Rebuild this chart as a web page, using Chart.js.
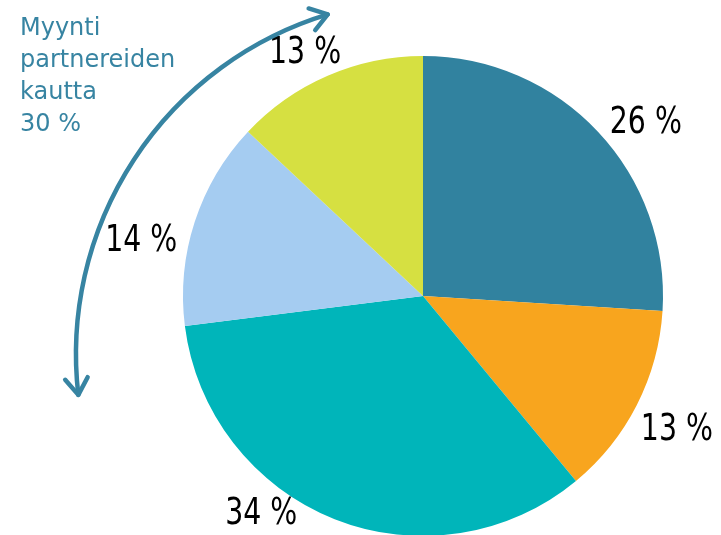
<!DOCTYPE html>
<html lang="fi">
<head>
<meta charset="utf-8">
<title>Myynti</title>
<script src="https://cdn.jsdelivr.net/npm/chart.js@4/dist/chart.umd.min.js"></script>
<style>
  html, body { margin: 0; padding: 0; background: #fff; overflow: hidden; }
  #wrap { position: absolute; left: 0; top: 0; width: 721px; height: 540px; }
</style>
</head>
<body>
<div id="wrap"><canvas id="myChart" width="721" height="540"></canvas></div>
<script>
// chart data (clockwise from 12 o'clock)
const segments = ['A', 'B', 'C', 'D', 'E'];
const shares = [26, 13, 34, 14, 13];
const sliceColors = ['#31829F', '#F8A51E', '#00B5BA', '#A5CCF1', '#D6E041'];

// side note about the partner sales
const noteLines = ['Myynti', 'partnereiden', 'kautta', '30 %'];

// small label tweaks: extra angle (deg) and distance as part of radius
const labelPlace = [
  { da: 5.4, k: 1.175 },
  { da: 0.8, k: 1.196 },
  { da: 14.9, k: 1.133 },
  { da: -7, k: 1.196 },
  { da: -2.5, k: 1.125 },
];

const deg = Math.PI / 180;

// draws the percent labels outside the slices
const outerLabels = {
  id: 'outerLabels',
  afterDatasetsDraw(chart) {
    const { ctx } = chart;
    const arcs = chart.getDatasetMeta(0).data;
    ctx.save();
    ctx.font = '38px "DejaVu Sans Condensed", "DejaVu Sans", sans-serif';
    ctx.fillStyle = '#000';
    ctx.textAlign = 'center';
    ctx.textBaseline = 'middle';
    arcs.forEach((arc, i) => {
      const p = arc.getProps(['x', 'y', 'startAngle', 'endAngle', 'outerRadius'], true);
      const a = (p.startAngle + p.endAngle) / 2 + labelPlace[i].da * deg;
      const d = p.outerRadius * labelPlace[i].k;
      const x = p.x + d * Math.cos(a);
      const y = p.y + d * Math.sin(a);
      // squeeze the text a bit, the original font is narrower
      ctx.save();
      ctx.translate(x, y);
      ctx.scale(0.83, 1);
      ctx.fillText(shares[i] + ' %', 0, 0);
      ctx.restore();
    });
    ctx.restore();
  },
};

// curved double arrow + note text on the left
const partnerNote = {
  id: 'partnerNote',
  afterDraw(chart) {
    const { ctx } = chart;
    const arc = chart.getDatasetMeta(0).data[0];
    const r = arc.outerRadius;
    const cx = arc.x + r * 0.033;
    const cy = arc.y + r * 0.242;
    const R = r * 1.479;
    const a0 = 173.4 * deg;
    const a1 = 253.1 * deg;
    const color = '#3784A2';

    ctx.save();
    ctx.strokeStyle = color;
    ctx.lineWidth = 4.5;
    ctx.lineCap = 'round';
    ctx.lineJoin = 'round';
    ctx.beginPath();
    ctx.arc(cx, cy, R, a0, a1);
    ctx.stroke();

    // arrow heads, pointing along the arc at both ends
    const head = (a, dir) => {
      const tx = cx + R * Math.cos(a);
      const ty = cy + R * Math.sin(a);
      const ang = Math.atan2(Math.cos(a) * dir, -Math.sin(a) * dir);
      const len = 20;
      ctx.beginPath();
      ctx.moveTo(tx - len * Math.cos(ang - 0.6), ty - len * Math.sin(ang - 0.6));
      ctx.lineTo(tx, ty);
      ctx.lineTo(tx - len * Math.cos(ang + 0.6), ty - len * Math.sin(ang + 0.6));
      ctx.stroke();
    };
    head(a1, 1);
    head(a0, -1);

    ctx.fillStyle = color;
    ctx.font = '24px "DejaVu Sans", sans-serif';
    ctx.textAlign = 'left';
    ctx.textBaseline = 'alphabetic';
    noteLines.forEach((t, i) => {
      ctx.fillText(t, 20, 35 + i * 32);
    });
    ctx.restore();
  },
};

new Chart('myChart', {
  type: 'pie',
  data: {
    labels: segments,
    datasets: [
      {
        data: shares,
        backgroundColor: sliceColors,
        borderWidth: 0,
      },
    ],
  },
  options: {
    responsive: false,
    animation: false,
    devicePixelRatio: 1,
    layout: { padding: { left: 183, right: 58, top: 56, bottom: 4 } },
    plugins: {
      legend: { display: false },
      tooltip: { enabled: false },
    },
  },
  plugins: [outerLabels, partnerNote],
});
</script>
</body>
</html>
